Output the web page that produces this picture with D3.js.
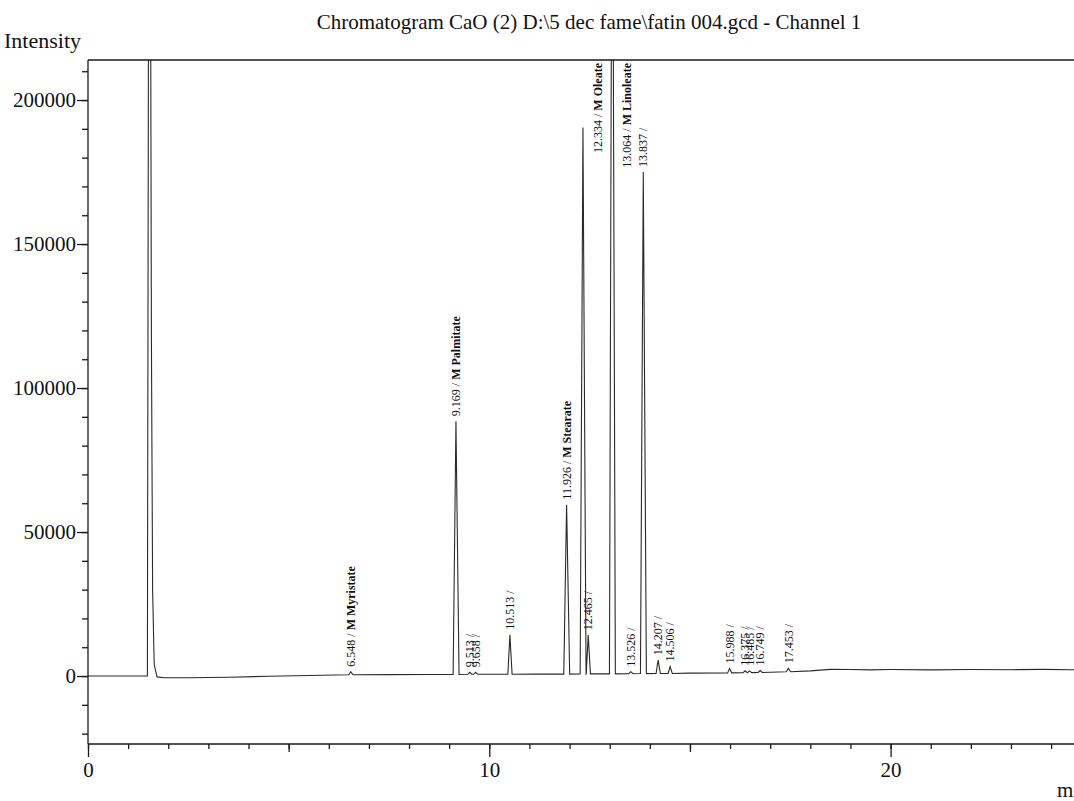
<!DOCTYPE html>
<html>
<head>
<meta charset="utf-8">
<script src="https://cdn.jsdelivr.net/npm/d3@7"></script>
<style>
  html, body { margin: 0; padding: 0; background: #fff; }
  svg { display: block; }
  text { font-family: "Liberation Serif", "Times New Roman", serif; fill: #111; }
</style>
</head>
<body>
<svg id="chart" width="1074" height="801"></svg>
<script>
// GC-FID run, channel 1: retention time (min) vs detector intensity
const chartTitle = "Chromatogram CaO (2) D:\\5 dec fame\\fatin 004.gcd - Channel 1";
const yTitle = "Intensity";
const xTitle = "min";

// Baseline and solvent front, [time, intensity]
const baseline = [
  [0, 0], [1.48, 0], [1.53, 420000], [1.58, 118000], [1.61, 30000], [1.65, 4000],
  [1.72, -300], [1.9, -600], [2.5, -600], [3.5, -400], [4.5, -100], [5.5, 200],
  [7.5, 500], [8.5, 550], [11.2, 650], [15.0, 1000], [18.0, 1800], [18.5, 2300],
  [19.0, 2250], [19.5, 2150], [20.0, 2250], [21.0, 2150], [22.0, 2250],
  [23.0, 2200], [23.8, 2300], [24.5, 2200], [25.0, 2200]
];

// Integrated peaks: retention time, apex intensity, local baseline, compound
const peakTimes = [6.548, 9.169, 9.513, 9.658, 10.513, 11.926, 12.334, 12.465, 13.064,
                   13.526, 13.837, 14.207, 14.506, 15.988, 16.375, 16.485, 16.749, 17.453];
const peakApex  = [1500, 88500, 1300, 1300, 14300, 59500, 190500, 14200, 330000,
                   1500, 175000, 5500, 3300, 2600, 1800, 1800, 1900, 2700];
const peakBase  = [450, 550, 600, 600, 600, 650, 700, 750, 750,
                   800, 850, 900, 900, 1100, 1150, 1200, 1250, 1500];
const peakNames = ["M Myristate", "M Palmitate", "", "", "", "M Stearate", "M Oleate", "", "M Linoleate",
                   "", "", "", "", "", "", "", "", ""];

// Axis ticks
const yMajorTicks = [0, 50000, 100000, 150000, 200000];
const yMinorTicks = d3.range(-20000, 210001, 10000);
const xMajorTicks = [0, 10, 20];
const xMidTicks = [5, 15, 25];
const xMinorTicks = d3.range(0, 26, 1);

const svg = d3.select("#chart");
const plotLeft = 88, plotTop = 60, plotBottom = 744, plotRight = 1091.25;

const x = d3.scaleLinear().domain([0, 25]).range([plotLeft, plotRight]);
const y = d3.scaleLinear().domain([-23600, 213900]).range([plotBottom, plotTop]);

// Title and axis captions
svg.append("text").attr("x", 589).attr("y", 29).attr("text-anchor", "middle")
  .style("font-size", "21px").text(chartTitle);
svg.append("text").attr("x", 4).attr("y", 48).style("font-size", "22px").text(yTitle);
svg.append("text").attr("x", 1057).attr("y", 797).style("font-size", "21px").text(xTitle);

// Trace assembled from baseline knots plus triangular peak profiles
const peaks = peakTimes.map((t, i) => ({
  t, apex: peakApex[i], base: peakBase[i], name: peakNames[i],
  rt: t.toFixed(3) + " /"
}));
const pts = baseline.map(d => [d[0], d[1]]);
peaks.forEach(p => {
  const hw = p.apex > 40000 ? 0.07 : 0.05;
  pts.push([p.t - hw, p.base], [p.t, p.apex], [p.t + hw * 1.1, p.base]);
});
pts.sort((a, b) => a[0] - b[0]);

svg.append("defs").append("clipPath").attr("id", "plotClip")
  .append("rect").attr("x", plotLeft).attr("y", plotTop)
  .attr("width", plotRight - plotLeft).attr("height", plotBottom - plotTop);

const line = d3.line().x(d => x(d[0])).y(d => y(d[1]));
svg.append("path").datum(pts)
  .attr("clip-path", "url(#plotClip)")
  .attr("d", line)
  .attr("fill", "none")
  .attr("stroke", "#2a2a2a")
  .attr("stroke-width", 1.1)
  .attr("stroke-linejoin", "miter");

// Peak labels, vertical text reading upwards above each apex
const lbl = svg.append("g").style("font-size", "12px");
peaks.forEach(p => {
  const px = x(p.t);
  const py = y(Math.min(p.apex, y.domain()[1]));
  const t = lbl.append("text").attr("dy", "0.35em");
  t.append("tspan").text(p.rt);
  if (p.name) t.append("tspan").style("font-weight", "bold").text(" " + p.name);
  const len = t.node().getComputedTextLength();
  if (py - 5 - len < plotTop + 2) {
    // too tall: pin label to the top edge, beside the peak
    t.attr("text-anchor", "end")
     .attr("transform", `translate(${px + 15},${plotTop + 3}) rotate(-90)`);
  } else {
    t.attr("transform", `translate(${px},${py - 5}) rotate(-90)`);
  }
});

// Frame
const axisColor = "#1a1a1a";
svg.append("line").attr("x1", plotLeft).attr("x2", 1074).attr("y1", plotTop).attr("y2", plotTop)
  .attr("stroke", axisColor).attr("stroke-width", 1.3);

// Y axis
const yMinor = svg.append("g").attr("transform", `translate(${plotLeft},0)`)
  .call(d3.axisLeft(y).tickValues(yMinorTicks).tickSize(6).tickFormat(""));
const yMajor = svg.append("g").attr("transform", `translate(${plotLeft},0)`)
  .call(d3.axisLeft(y).tickValues(yMajorTicks).tickSize(11).tickPadding(1).tickFormat(d3.format("d")));
[yMinor, yMajor].forEach(g => g.select(".domain").remove());
svg.append("line").attr("x1", plotLeft).attr("x2", plotLeft).attr("y1", plotTop).attr("y2", plotBottom)
  .attr("stroke", axisColor).attr("stroke-width", 1.3);

// X axis
const xMinor = svg.append("g").attr("transform", `translate(0,${plotBottom})`)
  .call(d3.axisBottom(x).tickValues(xMinorTicks).tickSize(5).tickFormat(""));
const xMid = svg.append("g").attr("transform", `translate(0,${plotBottom})`)
  .call(d3.axisBottom(x).tickValues(xMidTicks).tickSize(8).tickFormat(""));
const xMajor = svg.append("g").attr("transform", `translate(0,${plotBottom})`)
  .call(d3.axisBottom(x).tickValues(xMajorTicks).tickSize(13).tickPadding(5).tickFormat(d3.format("d")));
[xMinor, xMid, xMajor].forEach(g => g.select(".domain").remove());
svg.append("line").attr("x1", plotLeft).attr("x2", 1074).attr("y1", plotBottom).attr("y2", plotBottom)
  .attr("stroke", axisColor).attr("stroke-width", 1.3);

svg.selectAll(".tick line").attr("stroke", axisColor).attr("stroke-width", 1.3);
svg.selectAll(".tick text")
  .style("font-family", "'Liberation Serif', 'Times New Roman', serif")
  .style("font-size", "21px").attr("fill", "#111");
</script>
</body>
</html>
